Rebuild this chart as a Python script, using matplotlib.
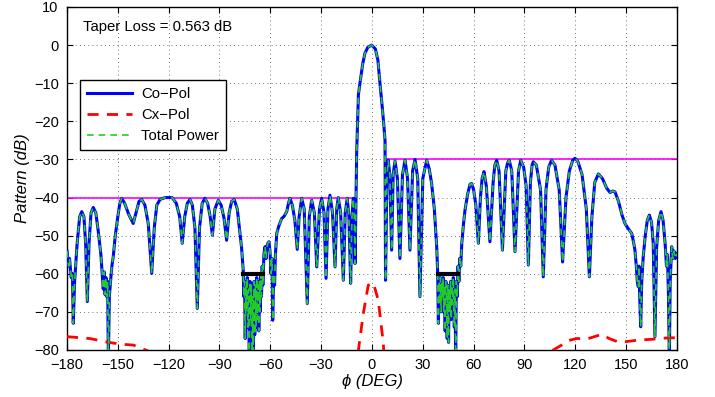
import numpy as np
import matplotlib
matplotlib.use('Agg')
import matplotlib.pyplot as plt

plt.rcParams['font.family'] = ['Liberation Sans', 'DejaVu Sans']

# Co-Pol pattern (phi in deg, level in dB)
co_phi = [-180, -179, -178.5, -177.5, -176.8, -176.3, -175.5, -174, -172.5, -171.3,
          -170, -169, -168, -167, -165.8, -164.5, -163, -161.5, -160, -159.2,
          -158.6, -158, -157.5, -157, -156.5, -156, -155.6, -155, -154.3, -153.5,
          -152.7, -151.5, -150, -148.8, -147.7, -146, -143.5, -140.9, -139, -137.5,
          -135.9, -134, -132, -130, -128.5, -127, -125.1, -122, -118, -115.5,
          -113.5, -112, -110.5, -109, -107.4, -106, -104.5, -103.1, -101.8, -100.2,
          -98.6, -97, -95.5, -94.2, -92.7, -90.7, -89, -87.3, -85.8, -84.3,
          -82.8, -81.3, -79.5, -78, -77, -76,
          -75.6, -75.2, -74.8, -74.4, -74, -73.6, -73.2, -72.8, -72.4, -72,
          -71.6, -71.2, -70.8, -70.4, -70, -69.6, -69.2, -68.8, -68.4, -68,
          -67.6, -67.2, -66.8, -66.4, -66, -65.6, -65.2, -64.8, -64.4, -63.8,
          -63.1, -62.5, -62, -61.5, -60.8, -60.2, -59.6, -59, -58.6, -58,
          -57.5, -57, -56.2, -55, -53.3, -52, -50.3, -49.3, -48.4, -47,
          -45.5, -44.1, -43, -41.5, -40, -38.2, -37, -35.6, -34, -32.6,
          -31, -29.7, -28.3, -27.1, -26, -24.8, -23.3, -21.8, -20.8, -19.9,
          -18.5, -16.9, -15.8, -14.6, -13.6, -12.6, -11.8, -11, -10.5, -10,
          -9.4, -9, -8, -7.1, -5.5, -4.2, -2.5, -0.2, 2, 3.5,
          4.7, 6, 7, 7.7, 8.0, 8.8, 9.6, 10.5, 11.6, 12.5,
          13.6, 15, 16.5, 18, 19.5, 21, 22.4, 24, 25.4, 27,
          28.3, 30, 32.3, 33.8, 35.2, 36.8, 38.2,
          38.8, 39.2, 39.6, 40, 40.4, 40.8, 41.2, 41.6, 42, 42.4,
          42.8, 43.2, 43.6, 44, 44.4, 44.8, 45.2, 45.6, 46, 46.4,
          46.8, 47.2, 47.6, 48, 48.6, 49, 49.4, 49.8, 50.3, 50.8,
          51.3, 51.8, 52.4, 53, 54, 54.9, 56.5, 57.9, 58.8, 60,
          61.3, 62.8, 64, 65, 66.1, 67.5, 69.6, 71.5, 72.5, 73.6,
          75, 77, 79, 80, 81, 82.5, 84.4, 86.5, 87.8, 89.5,
          91, 92.3, 93.5, 94.5, 95.2, 97, 99.5, 101.1, 102.7, 104.3,
          106, 108, 110.5, 112.5, 114.5, 116.5, 118.5, 119.8, 121.5, 124,
          126.5, 128.3, 129.8, 131.5, 133.6, 136, 138.5, 140.5, 142, 143.4,
          145.5, 147.5, 149.3, 151, 153.3, 154.5, 155.2, 156, 156.6, 157.2,
          157.6, 158, 158.6, 159.2, 160.1, 161.3, 162.5, 163.7, 165, 166,
          167, 168, 169.2, 170.6, 171.8, 173, 173.8, 174.4, 175, 175.5,
          176, 176.9, 177.5, 178.2, 179, 180]
co_db = [-54, -58, -56, -61, -60, -73, -62, -52, -45, -43.7,
         -45, -52, -67.3, -52, -44, -42.6, -44, -49, -55, -60,
         -64, -59.5, -65.5, -61, -66, -62, -83, -66, -62, -58,
         -55.5, -50, -45, -41.5, -40.2, -41.5, -44.5, -46.8, -43.5, -41,
         -40.5, -42, -47, -59.9, -48, -42, -40.5, -40, -40, -41.5,
         -45, -52, -45, -41.5, -40.5, -42, -48, -69.1, -48, -41.5,
         -40.2, -41.5, -45, -49.9, -43, -40.7, -42, -45.5, -51.2, -44,
         -41, -40.5, -43, -49, -53, -59,
         -66, -62, -77, -63, -70, -61, -74, -64, -82, -62,
         -72, -63, -82, -66, -82, -62, -76, -63, -74, -61,
         -72, -63, -75, -62, -70, -60, -66, -58, -63, -55,
         -52.9, -56, -53, -52, -51.6, -54, -60, -56, -72.2, -60,
         -63, -55, -49.4, -47.5, -45.5, -45, -43.7, -41.5, -40.2, -42,
         -46, -53.6, -45, -40.2, -43, -67.8, -45, -40.7, -44, -58.2,
         -43, -40.2, -44, -61.2, -43, -39.4, -44, -58.2, -43, -40,
         -44, -61.7, -44, -40.2, -45, -62.5, -45, -40.2, -45, -57.3,
         -40, -27.6, -13, -10, -5, -2.2, -0.6, 0, -1, -4,
         -10, -16, -21, -25, -61.7, -35, -30.2, -34, -53.8, -34,
         -30.4, -35, -56, -34, -30.2, -35, -53.8, -33, -30, -35,
         -66, -35, -30.2, -32.5, -36.3, -43, -52.9,
         -60, -73, -62, -68, -61, -70, -62, -66, -61, -70,
         -63, -75, -62, -68, -77, -63, -78, -64, -70, -62,
         -72, -63, -68, -61, -74, -64, -83, -62, -66, -58,
         -62, -56, -58, -52, -47, -43.3, -39, -36.5, -36.3, -38,
         -42, -52, -40, -35, -33.2, -37, -51.6, -36, -31.5, -30.2,
         -33, -53.8, -33, -31, -30.2, -33, -54.2, -33, -30.2, -32,
         -37, -57.7, -36, -31.5, -30.6, -31.5, -38, -60.8, -38, -32,
         -30.2, -31.5, -38, -56.9, -40, -33, -30.2, -29.7, -30.5, -34,
         -43, -60.8, -45, -36, -33.8, -35, -37.5, -38.7, -38.3, -38.5,
         -41, -44.5, -46.8, -48, -49.4, -52, -53.8, -58, -62, -63.4,
         -58, -66, -73.9, -62, -55.5, -50, -46, -44.6, -46.5, -52,
         -76.5, -53, -46, -43.7, -46, -52, -58, -55, -66, -83,
         -62, -52.9, -56, -54, -56, -54.7]

# Cx-Pol pattern (below -80 dB is off the chart)
cx_phi = [-180, -166.4, -156.6, -148, -140.9, -132, -125, -12, -9, -8, -5.1, -2.2, 0.8,
          3.7, 6.7, 7.5, 12, 100, 105, 107, 112, 116, 120.8, 127.7, 135.6,
          140, 145.4, 150, 157.2, 165, 175, 180]
cx_db = [-76.5, -77, -77.9, -78.5, -78.7, -80.3, -90, -90, -85, -80, -70.4, -63, -62.4,
         -66.9, -78.3, -85, -90, -90, -82, -80, -78.7, -77.5, -77, -77, -75.9,
         -77, -77.9, -77.8, -77.4, -77.2, -76.8, -76.8]

# sidelobe masks and floor marks
mask_lo = [[-180, -9.4], [-40, -40]]
mask_hi = [[8.7, 180], [-30, -30]]
floor_l = [[-76, -64.2], [-60, -60]]
floor_r = [[39.1, 50.6], [-60, -60]]
taper_loss = 0.563

fig = plt.figure(figsize=(7.15, 3.97), dpi=100)
ax = fig.add_axes([0.0937, 0.1184, 0.8531, 0.864])

ax.plot(mask_lo[0], mask_lo[1], color='#ff00ff', lw=1.2, zorder=2)
ax.plot(mask_hi[0], mask_hi[1], color='#ff00ff', lw=1.2, zorder=2)
ax.plot(co_phi, co_db, color='#0000ff', lw=2.2, label='Co\u2212Pol', zorder=3)
ax.plot(cx_phi, cx_db, color='#ff0000', lw=2, ls=(0, (4, 3)), label='Cx\u2212Pol', zorder=3)
ax.plot(co_phi, co_db, color='#22cc22', lw=1.2, ls=(0, (4, 3)), label='Total Power', zorder=4)
ax.plot(floor_l[0], floor_l[1], color='black', lw=3, zorder=5)
ax.plot(floor_r[0], floor_r[1], color='black', lw=3, zorder=5)

ax.set_xlim(-180, 180)
ax.set_ylim(-80, 10)
ax.set_xticks(np.arange(-180, 181, 30))
ax.set_yticks(np.arange(-80, 11, 10))
ax.set_xticklabels([str(v).replace('-', '\u2212') for v in range(-180, 181, 30)])
ax.set_yticklabels([str(v).replace('-', '\u2212') for v in range(-80, 11, 10)])
ax.tick_params(direction='in', top=True, right=True, length=4, labelsize=10.5, pad=6)
ax.grid(True, color='#444444', ls=(0, (1, 4)), lw=0.6)
for s in ax.spines.values():
    s.set_linewidth(1.0)

ax.set_xlabel('\u03d5 (DEG)', fontsize=12, style='italic', labelpad=1)
ax.set_ylabel('Pattern (dB)', fontsize=12, style='italic', labelpad=3)
ax.text(-170.6, 4.7, 'Taper Loss = %.3f dB' % taper_loss, fontsize=10.7, va='center')

leg = ax.legend(loc='upper left', bbox_to_anchor=(0.0213, 0.787), borderaxespad=0,
                fontsize=10.7, frameon=True, fancybox=False, edgecolor='black',
                framealpha=1, handlelength=3.0, handletextpad=0.6,
                borderpad=0.5, labelspacing=0.45)
leg.get_frame().set_linewidth(1.0)

fig.savefig('out.png', dpi=100)
